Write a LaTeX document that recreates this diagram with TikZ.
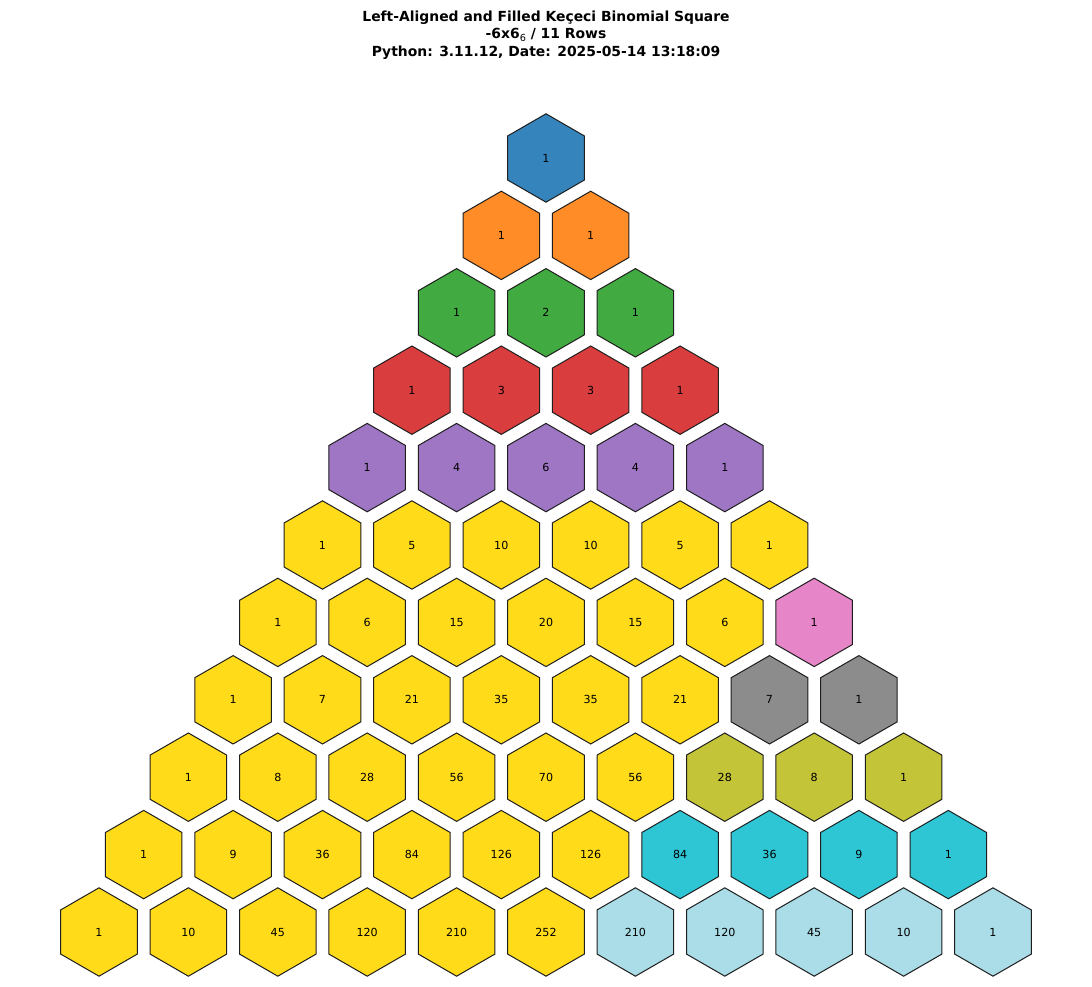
\documentclass[tikz,border=0pt]{standalone}
\usepackage{fontspec}
\setmainfont{DejaVu Sans}
\usetikzlibrary{shapes.geometric}
\definecolor{c0}{RGB}{53,133,188}
\definecolor{c1}{RGB}{255,140,38}
\definecolor{c2}{RGB}{65,170,65}
\definecolor{c3}{RGB}{218,61,62}
\definecolor{c4}{RGB}{159,118,196}
\definecolor{cgold}{RGB}{255,219,26}
\definecolor{c6}{RGB}{230,133,200}
\definecolor{c7}{RGB}{140,140,140}
\definecolor{c8}{RGB}{195,196,56}
\definecolor{c9}{RGB}{46,197,212}
\definecolor{c10}{RGB}{170,221,231}
\definecolor{edgec}{RGB}{30,30,30}
\begin{document}
\begin{tikzpicture}[x=1pt,y=1pt,
  hex/.style={regular polygon, regular polygon sides=6, shape border rotate=30,
    minimum size=88.4pt, inner sep=0pt, outer sep=0pt, draw=edgec, line width=1pt,
    font=\fontsize{11.1}{13}\selectfont, text=black},
  numtext/.style={inner sep=0pt, text height=8.1pt, text depth=0pt, anchor=center,
    font=\fontsize{11.1}{13}\selectfont},
  titletext/.style={font=\fontsize{13.9}{16}\bfseries, align=center, inner sep=0pt}]
\useasboundingbox (0,0) rectangle (1092,987);
\node[titletext] (t1) at (546,987-17.5) {Left-Aligned and Filled Keçeci Binomial Square};
\node[titletext] (t2) at (546,987-35) {-6x6\raisebox{-0.25em}{\fontsize{9.7}{11}\mdseries\selectfont 6} / 11 Rows};
\node[titletext] (t3) at (546,987-52.5) {Python: 3.11.12, Date: 2025-05-14 13:18:09};
\foreach \r/\vals in {0/{1},1/{1,1},2/{1,2,1},3/{1,3,3,1},4/{1,4,6,4,1},
  5/{1,5,10,10,5,1},6/{1,6,15,20,15,6,1},7/{1,7,21,35,35,21,7,1},
  8/{1,8,28,56,70,56,28,8,1},9/{1,9,36,84,126,126,84,36,9,1},
  10/{1,10,45,120,210,252,210,120,45,10,1}}{
  \foreach \v [count=\k from 0] in \vals {
    \ifnum\r<5 \def\cc{c\r}\else\ifnum\k<6 \def\cc{cgold}\else\def\cc{c\r}\fi\fi
    \node[hex, fill=\cc] (h\r-\k) at ({546+(\k-\r/2)*89.4},{987-158-\r*77.4}) {};
    \node[numtext] (n\r-\k) at (h\r-\k.center) {\v};
  }
}
\end{tikzpicture}
\end{document}
